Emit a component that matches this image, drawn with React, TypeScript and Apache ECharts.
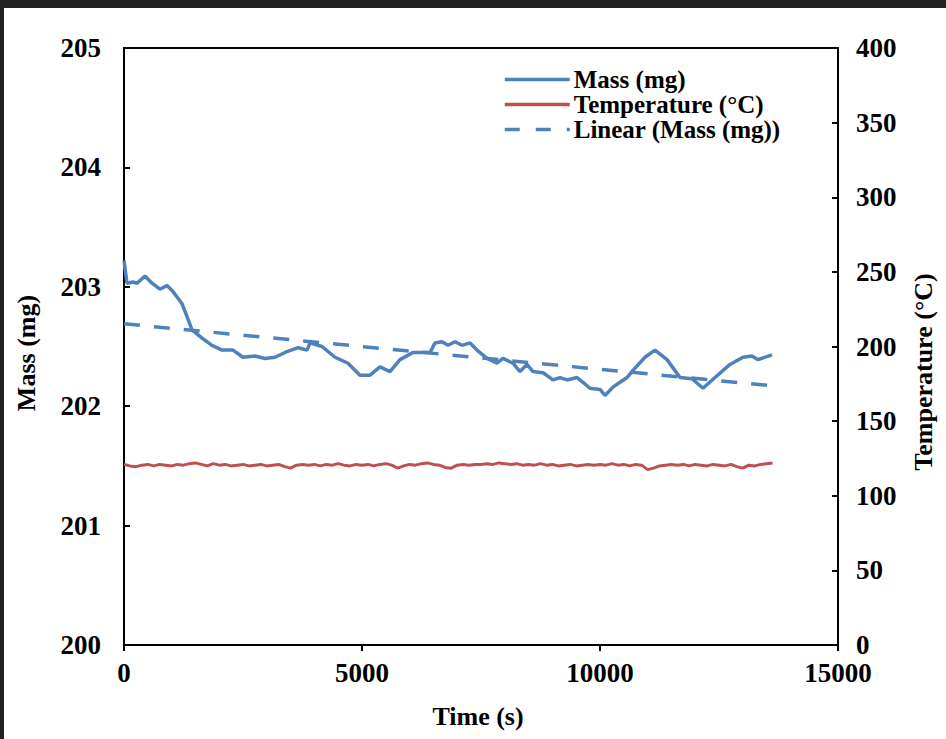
import React, { useEffect, useRef } from "react";
import * as echarts from "echarts";

// ---- Data ----
const massTime = [0, 63, 189, 273, 441, 588, 756, 903, 1029, 1218, 1324, 1429, 1639, 1849, 2059, 2290, 2500, 2752, 2962, 3172, 3382, 3655, 3845, 3908, 4160, 4433, 4706, 4958, 5168, 5378, 5588, 5798, 6071, 6429, 6534, 6681, 6807, 6954, 7101, 7269, 7416, 7626, 7836, 7962, 8172, 8319, 8466, 8592, 8803, 9013, 9160, 9307, 9517, 9643, 9790, 10000, 10105, 10273, 10420, 10567, 10693, 10945, 11155, 11408, 11681, 11933, 12164, 12416, 12731, 13004, 13193, 13319, 13613];
const massValues = [203.22, 203.03, 203.04, 203.03, 203.09, 203.03, 202.98, 203.01, 202.96, 202.86, 202.75, 202.64, 202.57, 202.51, 202.47, 202.47, 202.41, 202.42, 202.40, 202.41, 202.45, 202.49, 202.47, 202.53, 202.50, 202.41, 202.36, 202.26, 202.26, 202.33, 202.29, 202.39, 202.45, 202.45, 202.53, 202.54, 202.51, 202.54, 202.51, 202.53, 202.47, 202.40, 202.36, 202.40, 202.36, 202.29, 202.35, 202.29, 202.28, 202.22, 202.24, 202.22, 202.24, 202.20, 202.15, 202.14, 202.09, 202.16, 202.20, 202.24, 202.30, 202.41, 202.47, 202.39, 202.24, 202.23, 202.15, 202.24, 202.35, 202.41, 202.42, 202.39, 202.43];

const tempTime = [
  0, 125, 250, 375, 500, 625, 750, 875, 1000, 1125,
  1250, 1375, 1500, 1625, 1750, 1875, 2000, 2125, 2250, 2375,
  2500, 2625, 2750, 2875, 3000, 3125, 3250, 3375, 3500, 3625,
  3750, 3875, 4000, 4125, 4250, 4375, 4500, 4625, 4750, 4875,
  5000, 5125, 5250, 5375, 5500, 5625, 5750, 5875, 6000, 6125,
  6250, 6375, 6500, 6625, 6750, 6875, 7000, 7125, 7250, 7375,
  7500, 7625, 7750, 7875, 8000, 8125, 8250, 8375, 8500, 8625,
  8750, 8875, 9000, 9125, 9250, 9375, 9500, 9625, 9750, 9875,
  10000, 10125, 10250, 10375, 10500, 10625, 10750, 10875, 11000, 11125,
  11250, 11375, 11500, 11625, 11750, 11875, 12000, 12125, 12250, 12375,
  12500, 12625, 12750, 12875, 13000, 13125, 13250, 13375, 13500, 13625,
];
const tempValues = [
  121, 120, 119.5, 120.5, 121, 120, 121, 120.5, 120, 121,
  120.5, 121.5, 122, 121, 120, 121.5, 120.5, 121, 120, 120.5,
  121, 120, 120.5, 121, 120, 120.5, 121, 119.5, 118.5, 120.5,
  121, 120.5, 121, 120, 121, 120.5, 121.5, 120.5, 120, 121,
  120.5, 121, 120, 121, 121.5, 120.5, 118.5, 120, 121, 120.5,
  121.5, 122, 121, 120.5, 119, 118.5, 120.5, 121, 120.5, 121,
  121, 121.5, 121, 122, 121.5, 121, 121.5, 120.5, 121, 120.5,
  121.5, 120.5, 121, 120, 120.5, 121, 120, 120.5, 121, 120.5,
  121, 120.5, 121.5, 120.5, 121, 120, 121, 120.5, 117.5, 118.5,
  120, 120.5, 121, 120.5, 121, 120, 121, 120.5, 120, 121,
  120.5, 120, 121, 119.5, 118.5, 120.5, 120, 121, 121.5, 122,
];

const trendTime = [0, 13650];
const trendValues = [202.69, 202.17];

const xTicks = { min: 0, max: 15000, interval: 5000 };
const massTicks = { min: 200, max: 205, interval: 1 };
const tempTicks = { min: 0, max: 400, interval: 50 };

const seriesNames = ["Mass (mg)", "Temperature (°C)", "Linear (Mass (mg))"];
const axisTitles = { x: "Time (s)", left: "Mass (mg)", right: "Temperature (°C)" };

const FONT = "'Liberation Serif', 'Times New Roman', serif";
const BLUE = "#4F81BD";
const RED = "#C0504D";

const zip = (a: number[], b: number[]) => a.map((v, i) => [v, b[i]]);

export default function App() {
  const ref = useRef<HTMLDivElement>(null);

  useEffect(() => {
    if (!ref.current) return;
    const chart = echarts.init(ref.current, undefined, { renderer: "svg" });
    const labelStyle = {
      fontFamily: FONT,
      fontWeight: "bold" as const,
      fontSize: 27,
      color: "#000",
      formatter: (v: number) => String(v),
    };
    const axisLine = { show: true, lineStyle: { color: "#000", width: 2 } };
    const tick = (inside: boolean) => ({
      show: true,
      inside,
      length: 6,
      lineStyle: { color: "#000", width: 2 },
    });
    chart.setOption({
      animation: false,
      backgroundColor: "#fff",
      grid: {
        left: 124,
        right: 108,
        top: 48,
        bottom: 94,
        show: true,
        borderColor: "#000",
        borderWidth: 2,
        backgroundColor: "transparent",
      },
      legend: {
        orient: "vertical",
        left: 503,
        top: 67,
        padding: 0,
        itemWidth: 65,
        itemHeight: 14,
        itemGap: 0,
        itemStyle: { opacity: 0 },
        lineStyle: { width: 3.5 },
        data: [
          { name: seriesNames[0], lineStyle: { width: 3.5 } },
          { name: seriesNames[1], lineStyle: { width: 3.5 } },
          { name: seriesNames[2], lineStyle: { width: 3.5, type: [15, 16] } },
        ],
        textStyle: {
          fontFamily: FONT,
          fontWeight: "bold",
          fontSize: 25,
          color: "#000",
          lineHeight: 25,
          padding: [0, 0, 0, -1],
        },
      },
      xAxis: {
        type: "value",
        ...xTicks,
        axisLine,
        axisTick: tick(false),
        axisLabel: { ...labelStyle, margin: 14 },
        splitLine: { show: false },
      },
      yAxis: [
        {
          type: "value",
          position: "left",
          ...massTicks,
          axisLine,
          axisTick: tick(true),
          axisLabel: { ...labelStyle, margin: 23 },
          splitLine: { show: false },
        },
        {
          type: "value",
          position: "right",
          ...tempTicks,
          axisLine,
          axisTick: tick(true),
          axisLabel: { ...labelStyle, margin: 18 },
          splitLine: { show: false },
        },
      ],
      series: [
        {
          name: seriesNames[0],
          type: "line",
          yAxisIndex: 0,
          data: zip(massTime, massValues),
          symbol: "none",
          color: BLUE,
          lineStyle: { color: BLUE, width: 3.5 },
          z: 3,
        },
        {
          name: seriesNames[1],
          type: "line",
          yAxisIndex: 1,
          data: zip(tempTime, tempValues),
          symbol: "none",
          color: RED,
          lineStyle: { color: RED, width: 3 },
          z: 2,
        },
        {
          name: seriesNames[2],
          type: "line",
          yAxisIndex: 0,
          data: zip(trendTime, trendValues),
          symbol: "none",
          color: BLUE,
          lineStyle: { color: BLUE, width: 3.5, type: [16, 14] },
          z: 2,
        },
      ],
      graphic: [
        { type: "rect", shape: { x: 0, y: 0, width: 946, height: 8 }, style: { fill: "#212121" } },
        { type: "rect", shape: { x: 0, y: 0, width: 4, height: 739 }, style: { fill: "#212121" } },
        {
          type: "text",
          x: 478,
          y: 716,
          style: { text: axisTitles.x, font: `bold 26px ${FONT}`, fill: "#000", textAlign: "center", textVerticalAlign: "middle" },
        },
        {
          type: "text",
          x: 26,
          y: 353,
          rotation: Math.PI / 2,
          style: { text: axisTitles.left, font: `bold 26px ${FONT}`, fill: "#000", textAlign: "center", textVerticalAlign: "middle" },
        },
        {
          type: "text",
          x: 923,
          y: 372,
          rotation: Math.PI / 2,
          style: { text: axisTitles.right, font: `bold 26px ${FONT}`, fill: "#000", textAlign: "center", textVerticalAlign: "middle" },
        },
      ],
    });
    return () => chart.dispose();
  }, []);

  return (
    <div
      ref={ref}
      style={{ position: "absolute", left: 0, top: 0, width: 946, height: 739, background: "#fff" }}
    />
  );
}
